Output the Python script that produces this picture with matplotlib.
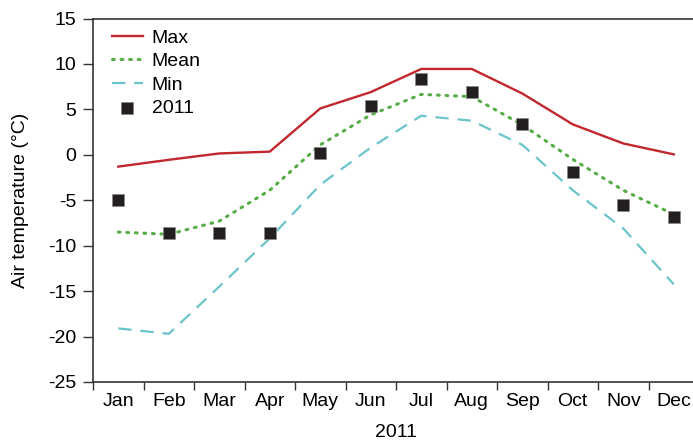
import matplotlib
matplotlib.use("Agg")
import matplotlib.pyplot as plt
import numpy as np

months = ["Jan", "Feb", "Mar", "Apr", "May", "Jun", "Jul", "Aug", "Sep", "Oct", "Nov", "Dec"]
t_max = [-1.3, -0.55, 0.15, 0.35, 5.1, 6.9, 9.45, 9.45, 6.75, 3.35, 1.25, 0.05]
t_mean = [-8.5, -8.75, -7.3, -3.9, 1.1, 4.4, 6.65, 6.4, 3.3, -0.5, -3.9, -6.55]
t_min = [-19.1, -19.7, -14.5, -9.2, -3.3, 0.8, 4.3, 3.75, 1.1, -3.9, -8.1, -14.25]
t_2011 = [-4.95, -8.65, -8.65, -8.65, 0.15, 5.35, 8.35, 6.9, 3.4, -1.9, -5.5, -6.85]

plt.rcParams["font.family"] = ["Liberation Sans", "DejaVu Sans"]
plt.rcParams["font.size"] = 14
plt.rcParams["axes.unicode_minus"] = False

fig = plt.figure(figsize=(6.93, 4.41), dpi=100)
# axes extends past the right edge of the figure, like the original crop
ax = fig.add_axes([93 / 693, 1 - 382 / 441, 606 / 693, 363.5 / 441])

x = np.arange(len(months))
spine_col = "#333333"

ax.plot(x, t_max, color="#c1272d", lw=1.7, label="Max")
ax.plot(x, t_mean, color="#55ad45", lw=2.2, linestyle=(0, (0.6, 2.2)),
        dash_capstyle="round", label="Mean")
ax.plot(x, t_min, color="#6ac4cc", lw=1.6, linestyle=(0, (6, 4)), label="Min")
ax.scatter(x, t_2011, marker="s", s=70, color="#231f20", edgecolors="#888888",
           linewidths=0.5, zorder=5, label="2011")

ax.set_xlim(-0.5, 11.5)
ax.set_ylim(-25, 15)
ax.set_yticks(np.arange(-25, 16, 5))

# month boundaries carry the tick marks, labels sit in the middle
ax.set_xticks(np.arange(-0.5, 12, 1))
ax.set_xticklabels([])
ax.set_xticks(x, minor=True)
ax.set_xticklabels(months, minor=True)
ax.tick_params(axis="x", which="major", direction="out", length=6, width=1, color=spine_col)
ax.tick_params(axis="x", which="minor", length=0, pad=8)
ax.tick_params(axis="y", direction="out", length=7, width=1, color=spine_col, pad=5)

for side in ["left", "top", "bottom", "right"]:
    ax.spines[side].set_color(spine_col)
    ax.spines[side].set_linewidth(1.2)

ax.set_ylabel("Air temperature (°C)", labelpad=14)
ax.set_xlabel("2011", labelpad=10)

leg = ax.legend(loc="upper left", frameon=False, handlelength=1.6, handletextpad=0.45,
                labelspacing=0.3, borderaxespad=0.0, bbox_to_anchor=(0.018, 0.992))

fig.savefig("out.png", dpi=100)
